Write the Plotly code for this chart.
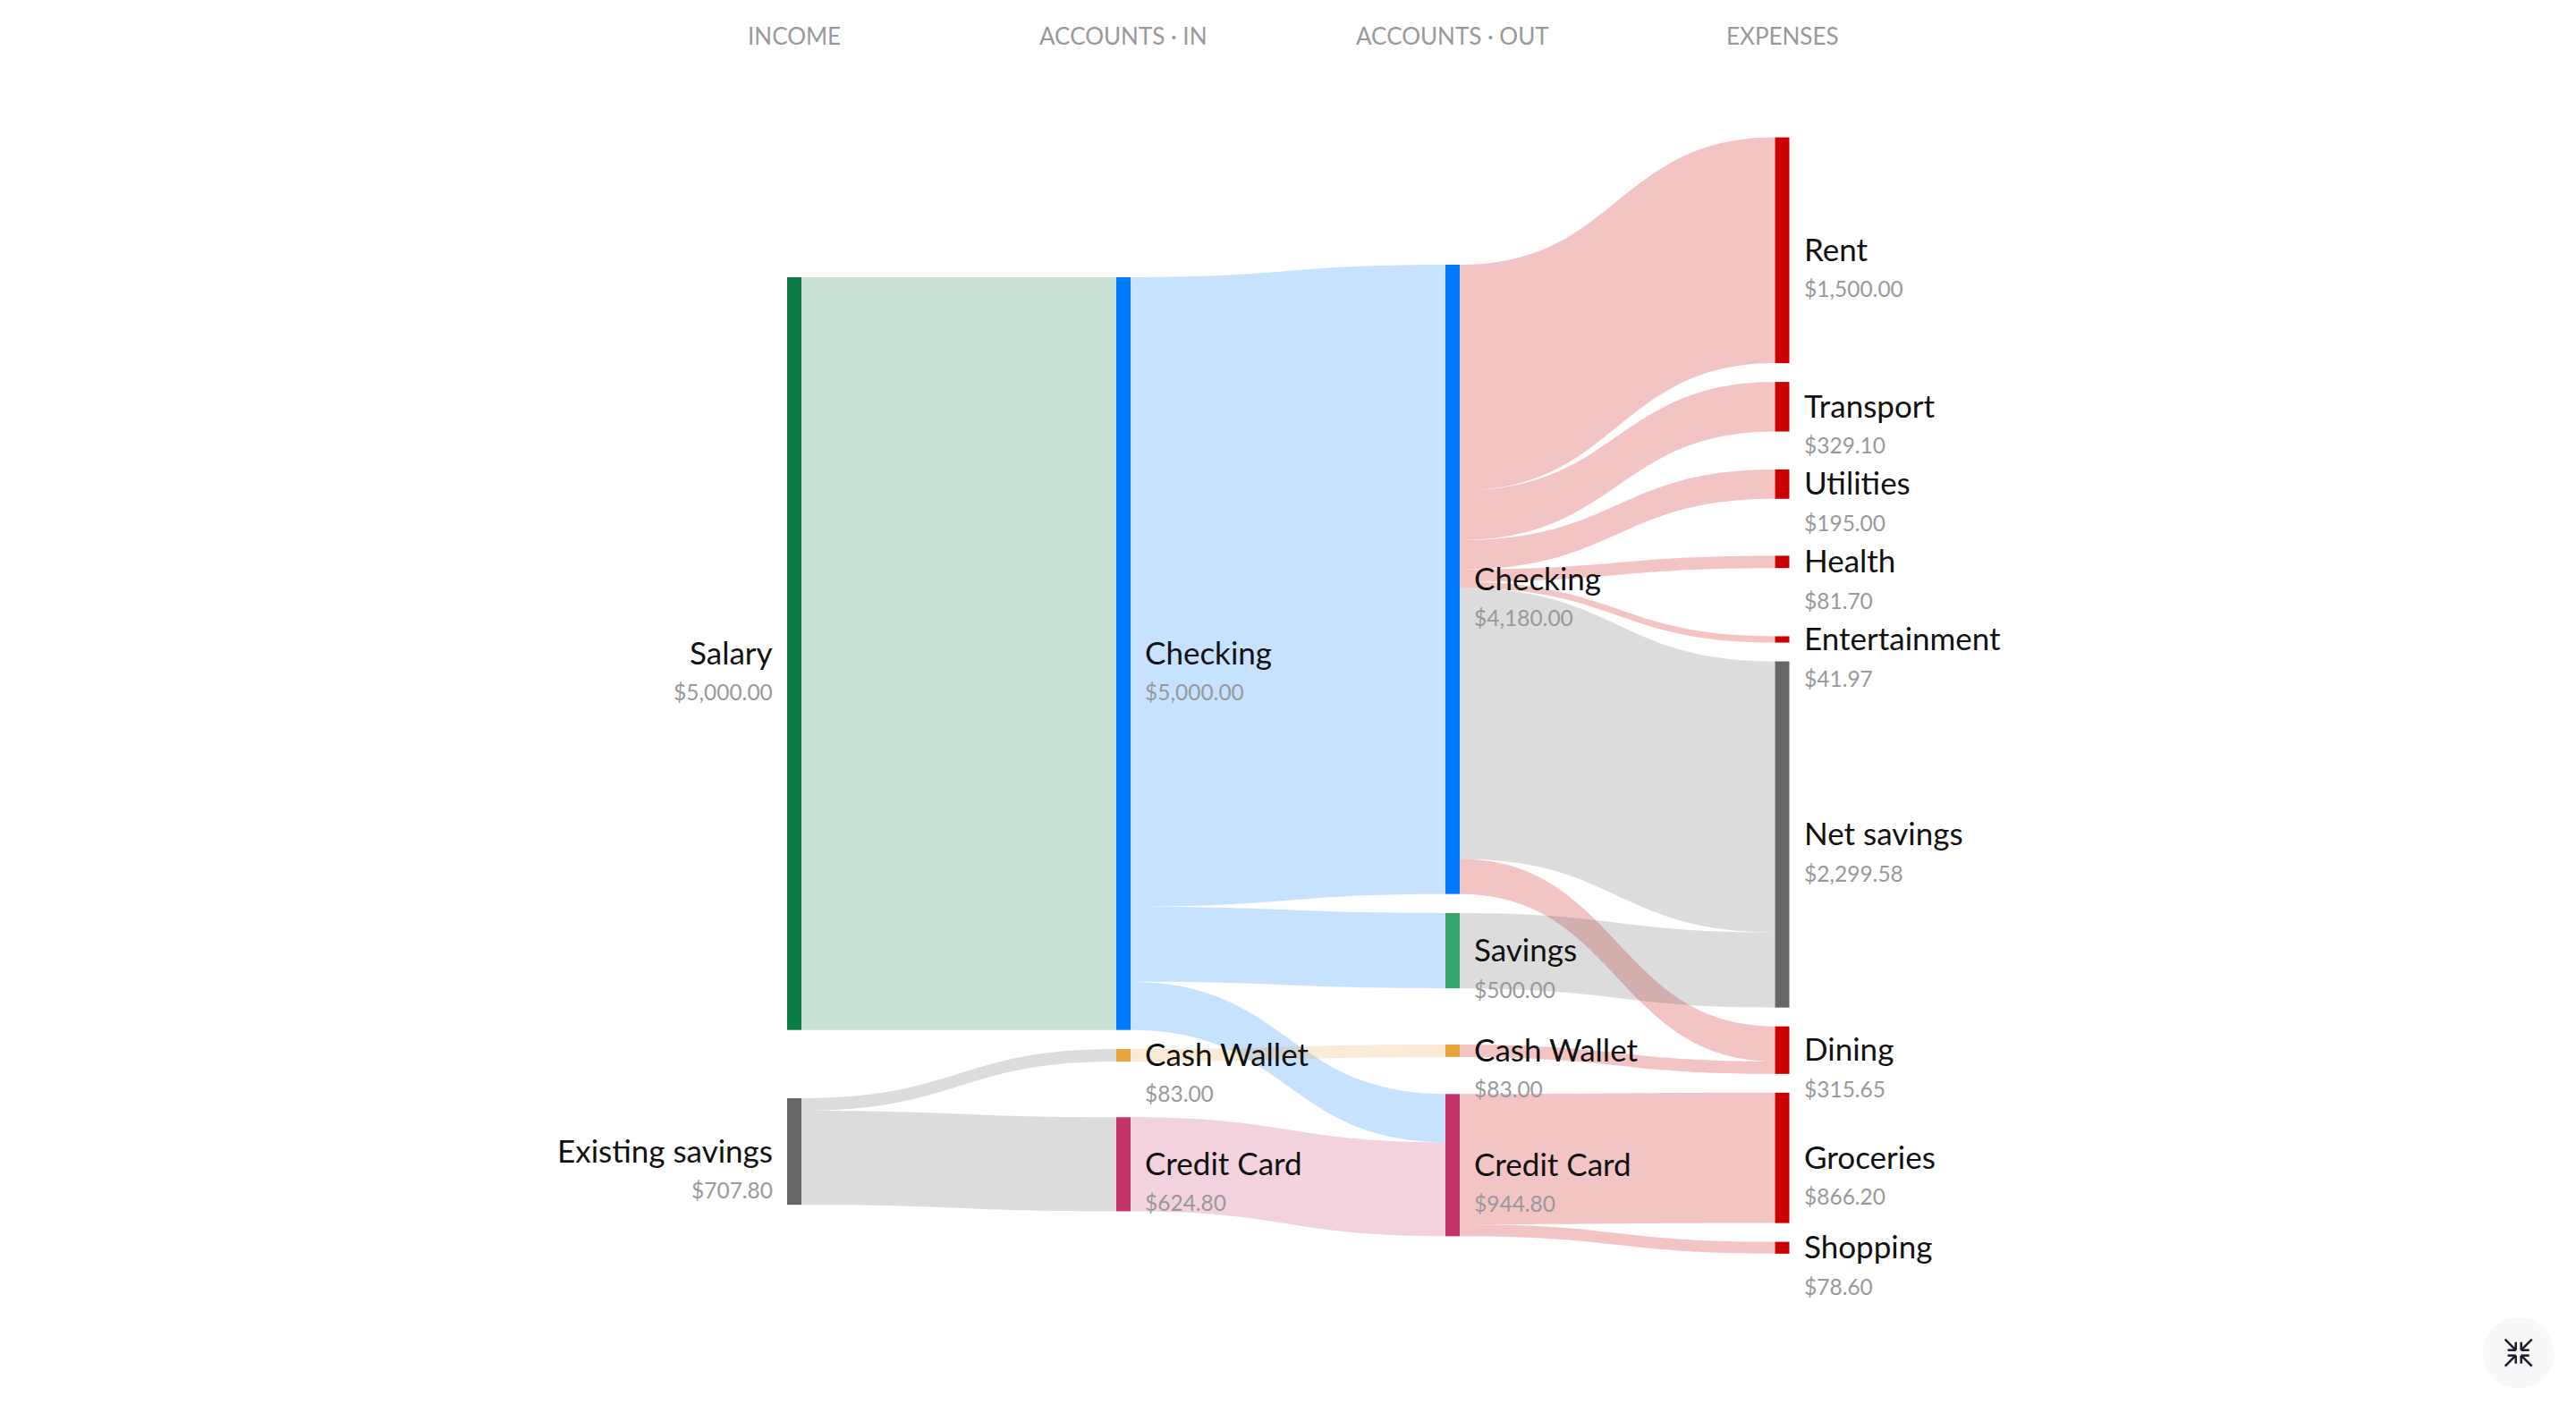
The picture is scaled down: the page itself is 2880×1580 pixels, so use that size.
import plotly.graph_objects as go

# ---- data ----
node_names = ["Salary", "Existing savings",
              "Checking", "Cash Wallet", "Credit Card",
              "Checking", "Savings", "Cash Wallet", "Credit Card",
              "Rent", "Transport", "Utilities", "Health", "Entertainment",
              "Net savings", "Dining", "Groceries", "Shopping"]
node_values = [5000.00, 707.80,
               5000.00, 83.00, 624.80,
               4180.00, 500.00, 83.00, 944.80,
               1500.00, 329.10, 195.00, 81.70, 41.97,
               2299.58, 315.65, 866.20, 78.60]
node_colors = ["#0a7b45", "#666666",
               "#007bff", "#e8a33d", "#c4346b",
               "#007bff", "#34a56f", "#e8a33d", "#c4346b",
               "#cc0000", "#cc0000", "#cc0000", "#cc0000", "#cc0000",
               "#666666", "#cc0000", "#cc0000", "#cc0000"]
node_columns = [0, 0, 1, 1, 1, 2, 2, 2, 2, 3, 3, 3, 3, 3, 3, 3, 3, 3]

link_sources = [0, 1, 1, 2, 2, 2, 3, 4, 5, 5, 5, 5, 5, 5, 5, 6, 7, 8, 8]
link_targets = [2, 3, 4, 5, 6, 8, 7, 8, 9, 10, 11, 12, 13, 14, 15, 14, 15, 16, 17]
link_values = [5000.00, 83.00, 624.80, 4180.00, 500.00, 320.00, 83.00, 624.80,
               1500.00, 329.10, 195.00, 81.70, 41.97, 1799.58, 232.65, 500.00, 83.00,
               866.20, 78.60]
link_colors = ["rgba(10,123,69,0.22)", "rgba(102,102,102,0.23)", "rgba(102,102,102,0.23)",
               "rgba(0,123,255,0.22)", "rgba(0,123,255,0.22)", "rgba(0,123,255,0.22)",
               "rgba(232,163,61,0.22)", "rgba(196,52,107,0.22)",
               "rgba(204,0,0,0.23)", "rgba(204,0,0,0.23)", "rgba(204,0,0,0.23)",
               "rgba(204,0,0,0.23)", "rgba(204,0,0,0.23)",
               "rgba(102,102,102,0.23)", "rgba(204,0,0,0.23)",
               "rgba(102,102,102,0.23)", "rgba(204,0,0,0.23)",
               "rgba(204,0,0,0.23)", "rgba(204,0,0,0.23)"]
column_titles = ["INCOME", "ACCOUNTS · IN", "ACCOUNTS · OUT", "EXPENSES"]

# ---- layout settings (pixels of the 2880x1580 page) ----
W, H = 2880, 1580
THICK = 16
COL_X = [880, 1248, 1616, 1984.5]
PX_PER_USD = 0.16834
COL_START = [310, 310, 296, 153.6]
COL_GAPS = [[76.3], [21.3, 62.3], [21.3, 62.8, 41.4], [21, 42.4, 63.7, 76.3, 21, 21, 21, 21]]
NAME_FONT = "Lato"
NAME_SIZE = 35
VALUE_SIZE = 24.5
TITLE_SIZE = 26

# the sankey fills the page; padding sets the px-per-dollar scale of its fullest column
pad = (H - PX_PER_USD * sum(node_values[9:])) / 8


def fx(px):
    return px / W


def fy(px):
    return 1 - px / H


# node tops stacked per column from the values
tops = []
for c in range(4):
    y = COL_START[c]
    idx = [i for i, k in enumerate(node_columns) if k == c]
    for n, i in enumerate(idx):
        tops.append(y)
        y += node_values[i] * PX_PER_USD
        if n < len(COL_GAPS[c]):
            y += COL_GAPS[c][n]

# plotly reads fixed node positions as node centres, as fractions of the trace domain
node_x = [(COL_X[c] + THICK / 2) / W for c in node_columns]
node_y = [(t + v * PX_PER_USD / 2) / H for t, v in zip(tops, node_values)]

fig = go.Figure(go.Sankey(
    arrangement="fixed",
    domain=dict(x=[0, 1], y=[0, 1]),
    hoverinfo="skip",
    node=dict(label=[""] * len(node_names), color=node_colors, x=node_x, y=node_y,
              thickness=THICK, pad=pad, line=dict(width=0), hoverinfo="skip"),
    link=dict(source=link_sources, target=link_targets, value=link_values,
              color=link_colors, line=dict(width=0), hoverinfo="skip"),
))

annotations = []
for i, name in enumerate(node_names):
    c = node_columns[i]
    mid = tops[i] + node_values[i] * PX_PER_USD / 2
    if c == 0:
        ax, anchor = COL_X[0] - 14, "right"
    else:
        ax, anchor = COL_X[c] + THICK + 14, "left"
    annotations.append(dict(x=fx(ax), y=fy(mid - 2), xref="paper", yref="paper", text=name,
                            xanchor=anchor, yanchor="middle", showarrow=False,
                            font=dict(family=NAME_FONT, size=NAME_SIZE, color="#111111")))
    annotations.append(dict(x=fx(ax), y=fy(mid + 43), xref="paper", yref="paper",
                            text=f"${node_values[i]:,.2f}",
                            xanchor=anchor, yanchor="middle", showarrow=False,
                            font=dict(family=NAME_FONT, size=VALUE_SIZE, color="#999999")))
for c, title in enumerate(column_titles):
    annotations.append(dict(x=fx(COL_X[c] + THICK / 2), y=fy(40), xref="paper", yref="paper",
                            text=title, xanchor="center", yanchor="middle", showarrow=False,
                            font=dict(family=NAME_FONT, size=TITLE_SIZE, color="#999999")))

# exit-fullscreen button, bottom right
BX, BY, BR = 2815.7, 1512.7, 40
shapes = [dict(type="circle", xref="paper", yref="paper", x0=fx(BX - BR), x1=fx(BX + BR),
               y0=fy(BY + BR), y1=fy(BY - BR), fillcolor="#f8f8f8", line=dict(width=0), layer="below")]
for sx, sy in [(-1, -1), (1, -1), (-1, 1), (1, 1)]:
    tip_x, tip_y = BX + sx * 3, BY + sy * 3
    far_x, far_y = BX + sx * 15, BY + sy * 15
    for (x0, y0, x1, y1) in [(far_x, far_y, tip_x, tip_y),
                             (tip_x, tip_y, tip_x + sx * 9, tip_y),
                             (tip_x, tip_y, tip_x, tip_y + sy * 9)]:
        shapes.append(dict(type="line", xref="paper", yref="paper", x0=fx(x0), y0=fy(y0),
                           x1=fx(x1), y1=fy(y1), line=dict(color="#1a1a2a", width=2.5)))

fig.update_layout(width=W, height=H, margin=dict(l=0, r=0, t=0, b=0),
                  paper_bgcolor="white", plot_bgcolor="white",
                  annotations=annotations, shapes=shapes, showlegend=False)
fig.write_html("out.html", config=dict(displayModeBar=False),
               post_script="document.body.style.margin='0';document.body.style.overflow='hidden';")
